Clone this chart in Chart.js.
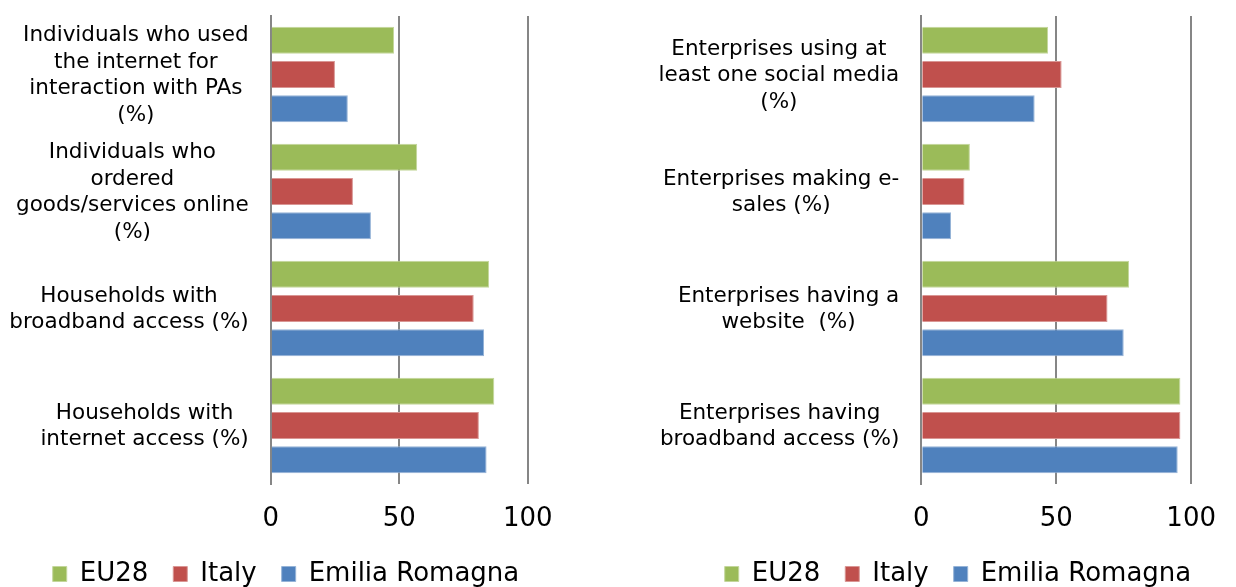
<!DOCTYPE html>
<html>
<head>
    <title>Digital indicators - Emilia Romagna</title>
    <meta charset="utf-8" />
    <script src="https://cdn.jsdelivr.net/npm/chart.js"></script>
    <style>
        body {
            margin: 0;
            overflow: hidden;
            background: #ffffff;
        }
        canvas {
            position: absolute;
            top: 0;
        }
        #citizens { left: 0; }
        #enterprises { left: 618px; }
    </style>
</head>
<body>
    <canvas id="citizens" width="618" height="587"></canvas>
    <canvas id="enterprises" width="618" height="587"></canvas>

    <script>
        // series names and colours (same for both panels)
        var seriesNames = ['EU28', 'Italy', 'Emilia Romagna'];
        var seriesColors = ['#9BBB59', '#C0504D', '#4F81BD'];
        var seriesBorders = ['#C3D69B', '#D99694', '#95B3D7'];

        // left panel: households and individuals
        var citizenLabels = [
            ['Individuals who used', 'the internet for', 'interaction with PAs', '(%)'],
            ['Individuals who', 'ordered', 'goods/services online', '(%)'],
            ['Households with', 'broadband access (%)'],
            ['Households with', 'internet access (%)']
        ];
        var citizenEU28 = [48, 57, 85, 87];
        var citizenItaly = [25, 32, 79, 81];
        var citizenER = [30, 39, 83, 84];

        // right panel: enterprises
        var enterpriseLabels = [
            ['Enterprises using at', 'least one social media', '(%)'],
            ['Enterprises making e-', 'sales (%)'],
            ['Enterprises having a', 'website  (%)'],
            ['Enterprises having', 'broadband access (%)']
        ];
        var enterpriseEU28 = [47, 18, 77, 96];
        var enterpriseItaly = [52, 16, 69, 96];
        var enterpriseER = [42, 11, 75, 95];

        var xTicks = [0, 50, 100];

        var gridColor = '#868686';
        var fontFamily = '"DejaVu Sans", Verdana, sans-serif';

        // draws the wrapped category names, each block right aligned to the axis
        // and its lines centred on each other
        var categoryText = {
            id: 'categoryText',
            afterDraw: function(chart) {
                var ctx = chart.ctx;
                var yScale = chart.scales.y;
                var right = chart.chartArea.left - 22;
                var pitch = 26.5;
                ctx.save();
                ctx.font = '21.5px ' + fontFamily;
                ctx.fillStyle = '#000000';
                ctx.textAlign = 'center';
                ctx.textBaseline = 'middle';
                chart.data.labels.forEach(function(lines, i) {
                    var maxW = 0;
                    lines.forEach(function(l) {
                        maxW = Math.max(maxW, ctx.measureText(l).width);
                    });
                    var cx = right - maxW / 2;
                    var cy = yScale.getPixelForValue(i) + 1;
                    var y0 = cy - (lines.length - 1) * pitch / 2;
                    lines.forEach(function(l, k) {
                        ctx.fillText(l, cx, y0 + k * pitch);
                    });
                });
                ctx.restore();
            }
        };

        // moves the legend row under each panel
        var legendPlace = {
            id: 'legendPlace',
            afterLayout: function(chart, args, opts) {
                var lg = chart.legend;
                var w = lg.right - lg.left;
                var h = lg.bottom - lg.top;
                lg.left = opts.centerX - w / 2;
                lg.right = opts.centerX + w / 2;
                lg.top = opts.top;
                lg.bottom = opts.top + h;
            }
        };

        function makeDatasets(a, b, c) {
            return [a, b, c].map(function(values, i) {
                return {
                    label: seriesNames[i],
                    data: values,
                    backgroundColor: seriesColors[i],
                    borderColor: seriesBorders[i],
                    borderWidth: 1,
                    categoryPercentage: 0.877,
                    barPercentage: 0.79
                };
            });
        }

        function makeChart(id, labels, datasets, axisWidth, padRight, legendCenter) {
            return new Chart(document.getElementById(id), {
                type: 'bar',
                data: {
                    labels: labels,
                    datasets: datasets
                },
                options: {
                    indexAxis: 'y',
                    responsive: false,
                    animation: false,
                    layout: {
                        padding: { top: 16, right: padRight, left: 0, bottom: 0 }
                    },
                    scales: {
                        x: {
                            min: 0,
                            max: 100,
                            afterBuildTicks: function(scale) {
                                scale.ticks = xTicks.map(function(v) { return { value: v }; });
                            },
                            afterFit: function(scale) {
                                scale.height = 42;
                            },
                            grid: {
                                color: gridColor,
                                lineWidth: 2,
                                drawTicks: false
                            },
                            border: { display: false },
                            ticks: {
                                color: '#000000',
                                padding: 20,
                                font: { family: fontFamily, size: 26 }
                            }
                        },
                        y: {
                            z: 1,
                            afterFit: function(scale) {
                                scale.width = axisWidth;
                            },
                            grid: { display: false },
                            border: { color: gridColor, width: 2 },
                            ticks: { display: false }
                        }
                    },
                    plugins: {
                        legend: {
                            position: 'bottom',
                            labels: {
                                color: '#000000',
                                boxWidth: 14,
                                boxHeight: 15,
                                padding: 25,
                                font: { family: fontFamily, size: 26 }
                            }
                        },
                        legendPlace: { centerX: legendCenter, top: 536 },
                        tooltip: { enabled: false }
                    }
                },
                plugins: [categoryText, legendPlace]
            });
        }

        makeChart('citizens', citizenLabels,
            makeDatasets(citizenEU28, citizenItaly, citizenER), 270.7, 90.3, 286);
        makeChart('enterprises', enterpriseLabels,
            makeDatasets(enterpriseEU28, enterpriseItaly, enterpriseER), 303.3, 26, 340);
    </script>
</body>
</html>
